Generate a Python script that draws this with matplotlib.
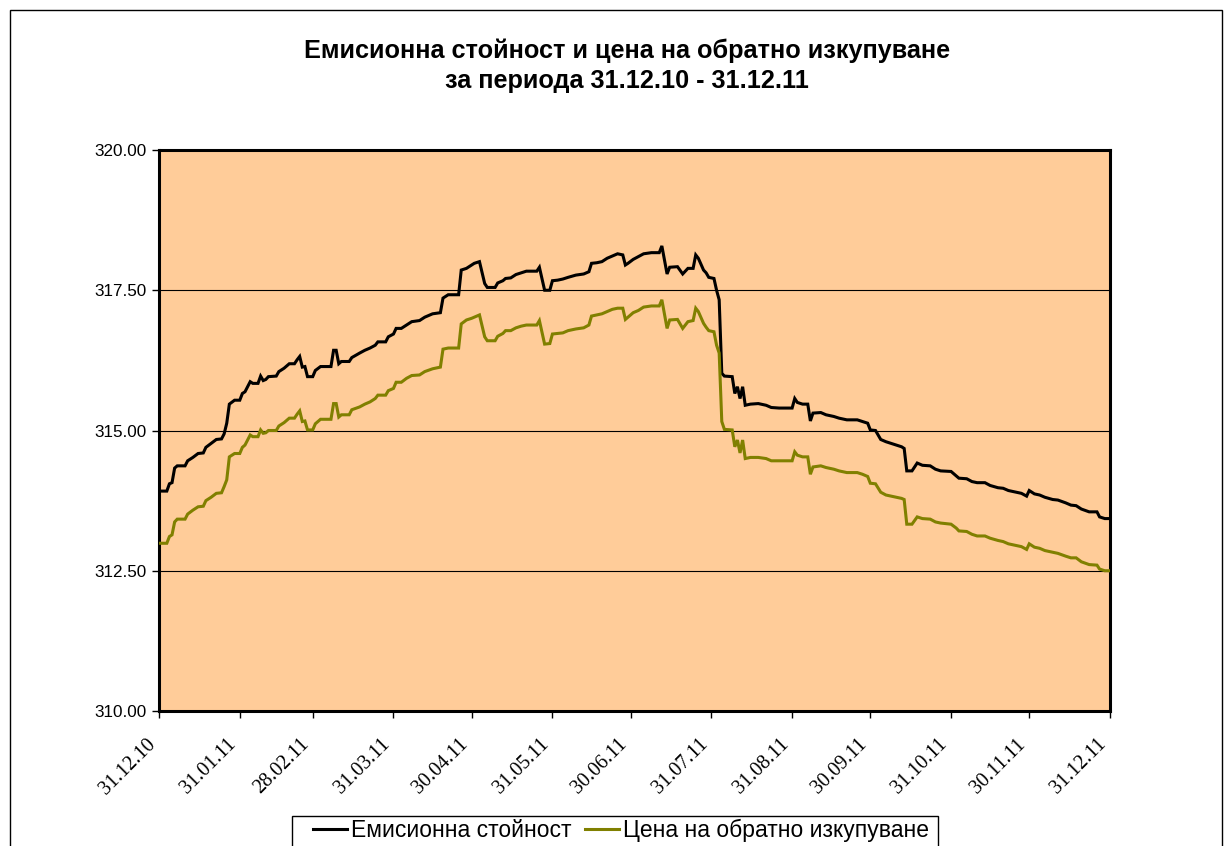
import datetime as dt
import matplotlib
matplotlib.use("Agg")
import matplotlib.pyplot as plt
from matplotlib.patches import Rectangle
from matplotlib.ticker import FixedLocator, FuncFormatter, NullFormatter
import matplotlib.transforms as mtransforms

# ---------------- data ----------------
start_date = dt.date(2010, 12, 31)

day_offsets = [
    0, 3, 4, 5, 6, 7, 10, 11, 13, 15,
    17, 18, 20, 22, 24, 25, 26, 27, 29, 31,
    32, 33, 35, 36, 38, 39, 40, 41, 42, 45,
    46, 48, 50, 52, 53, 54, 55, 56, 57, 59,
    60, 62, 66, 67, 68, 69, 70, 73, 74, 77,
    79, 81, 83, 84, 87, 88, 90, 91, 93, 95,
    97, 100, 102, 105, 108, 109, 111, 115, 116, 118,
    120, 121, 123, 125, 126, 129, 130, 132, 133, 135,
    137, 139, 141, 145, 146, 148, 150, 151, 153, 155,
    157, 160, 163, 165, 166, 168, 170, 172, 174, 176,
    178, 179, 180, 182, 184, 186, 189, 192, 193, 195,
    196, 199, 201, 203, 205, 206, 207, 209, 210, 211,
    213, 214, 215, 216, 217, 220, 221, 222, 223, 224,
    225, 227, 230, 233, 235, 238, 243, 244, 245, 247,
    249, 250, 251, 254, 256, 259, 261, 264, 268, 270,
    272, 273, 275, 277, 279, 281, 283, 285, 286, 287,
    289, 291, 293, 296, 298, 300, 304, 306, 307, 310,
    312, 314, 317, 319, 322, 324, 326, 329, 331, 333,
    334, 336, 338, 340, 343, 345, 348, 350, 352, 354,
    357, 360, 361, 363, 365,
]

issue_value = [
    313.92, 313.92, 314.05, 314.07, 314.33, 314.37, 314.37, 314.46, 314.52, 314.59,
    314.60, 314.70, 314.77, 314.84, 314.85, 314.94, 315.13, 315.47, 315.54, 315.54,
    315.66, 315.69, 315.87, 315.84, 315.84, 315.97, 315.89, 315.91, 315.96, 315.97,
    316.05, 316.11, 316.19, 316.19, 316.26, 316.32, 316.13, 316.14, 315.96, 315.96,
    316.07, 316.14, 316.14, 316.43, 316.43, 316.19, 316.23, 316.23, 316.30, 316.38,
    316.43, 316.47, 316.52, 316.58, 316.58, 316.67, 316.72, 316.82, 316.82, 316.88,
    316.94, 316.96, 317.02, 317.08, 317.10, 317.36, 317.42, 317.42, 317.86, 317.89,
    317.95, 317.98, 318.01, 317.62, 317.55, 317.55, 317.63, 317.67, 317.71, 317.72,
    317.78, 317.81, 317.84, 317.84, 317.91, 317.50, 317.50, 317.67, 317.68, 317.70,
    317.73, 317.77, 317.79, 317.83, 317.98, 317.99, 318.01, 318.07, 318.11, 318.15,
    318.13, 317.95, 317.98, 318.05, 318.10, 318.15, 318.17, 318.17, 318.29, 317.79,
    317.91, 317.92, 317.79, 317.89, 317.89, 318.13, 318.07, 317.86, 317.81, 317.73,
    317.71, 317.50, 317.33, 316.02, 315.97, 315.96, 315.66, 315.78, 315.57, 315.78,
    315.45, 315.47, 315.48, 315.45, 315.41, 315.40, 315.40, 315.57, 315.50, 315.47,
    315.47, 315.17, 315.31, 315.32, 315.28, 315.25, 315.22, 315.19, 315.19, 315.16,
    315.13, 315.01, 315.00, 314.84, 314.80, 314.77, 314.74, 314.71, 314.68, 314.28,
    314.28, 314.42, 314.38, 314.37, 314.31, 314.28, 314.27, 314.19, 314.15, 314.14,
    314.09, 314.07, 314.07, 314.02, 313.98, 313.97, 313.93, 313.90, 313.88, 313.83,
    313.93, 313.87, 313.85, 313.81, 313.77, 313.76, 313.71, 313.67, 313.66, 313.60,
    313.55, 313.55, 313.46, 313.43, 313.43,
]

redemption_price = [
    312.99, 312.99, 313.11, 313.14, 313.37, 313.42, 313.42, 313.51, 313.58, 313.64,
    313.65, 313.75, 313.81, 313.88, 313.89, 314.00, 314.12, 314.53, 314.59, 314.59,
    314.70, 314.74, 314.92, 314.89, 314.89, 315.01, 314.95, 314.96, 315.00, 315.00,
    315.08, 315.14, 315.22, 315.22, 315.29, 315.35, 315.16, 315.17, 315.01, 315.01,
    315.12, 315.20, 315.20, 315.48, 315.48, 315.24, 315.28, 315.28, 315.37, 315.42,
    315.47, 315.51, 315.57, 315.63, 315.63, 315.71, 315.75, 315.86, 315.86, 315.93,
    315.98, 315.99, 316.05, 316.10, 316.13, 316.45, 316.47, 316.47, 316.90, 316.97,
    317.00, 317.02, 317.06, 316.67, 316.60, 316.60, 316.68, 316.73, 316.78, 316.78,
    316.83, 316.86, 316.88, 316.88, 316.96, 316.54, 316.55, 316.72, 316.73, 316.74,
    316.78, 316.81, 316.83, 316.88, 317.04, 317.06, 317.08, 317.12, 317.16, 317.18,
    317.18, 316.98, 317.02, 317.10, 317.14, 317.20, 317.22, 317.22, 317.33, 316.82,
    316.97, 316.98, 316.82, 316.94, 316.96, 317.18, 317.12, 316.91, 316.84, 316.78,
    316.76, 316.52, 316.38, 315.16, 315.02, 315.01, 314.71, 314.83, 314.60, 314.83,
    314.50, 314.52, 314.52, 314.50, 314.46, 314.46, 314.46, 314.62, 314.56, 314.53,
    314.53, 314.22, 314.35, 314.37, 314.34, 314.31, 314.28, 314.25, 314.25, 314.22,
    314.18, 314.06, 314.05, 313.90, 313.85, 313.83, 313.81, 313.79, 313.77, 313.33,
    313.33, 313.46, 313.43, 313.42, 313.37, 313.35, 313.33, 313.26, 313.21, 313.20,
    313.15, 313.12, 313.12, 313.08, 313.04, 313.02, 312.98, 312.95, 312.93, 312.88,
    312.98, 312.92, 312.90, 312.86, 312.83, 312.81, 312.76, 312.73, 312.73, 312.66,
    312.61, 312.60, 312.53, 312.50, 312.50,
]

tick_labels = ["31.12.10", "31.01.11", "28.02.11", "31.03.11", "30.04.11", "31.05.11",
               "30.06.11", "31.07.11", "31.08.11", "30.09.11", "31.10.11", "30.11.11",
               "31.12.11"]

series_names = ["Емисионна стойност", "Цена на обратно изкупуване"]
title_text = "Емисионна стойност и цена на обратно изкупуване\nза периода 31.12.10 - 31.12.11"

y_ticks = [310.0, 312.5, 315.0, 317.5, 320.0]

# ---------------- figure ----------------
W, H = 1232, 846
fig = plt.figure(figsize=(W / 100, H / 100), dpi=100)
fig.patch.set_facecolor("white")

ax = fig.add_axes([159 / W, 1 - 711 / H, (1110 - 159) / W, (711 - 150) / H])
ax.set_facecolor("#FFCC99")

ax.plot(day_offsets, issue_value, color="black", lw=2.2, solid_joinstyle="miter",
        label=series_names[0], zorder=3)
ax.plot(day_offsets, redemption_price, color="#808000", lw=2.2, solid_joinstyle="miter",
        label=series_names[1], zorder=3)

ax.set_xlim(0, 365)
ax.set_ylim(310, 320)

# x ticks from label dates
def label_to_offset(s):
    d, m, y = s.split(".")
    return (dt.date(2000 + int(y), int(m), int(d)) - start_date).days

tick_pos = [label_to_offset(s) for s in tick_labels]
ax.xaxis.set_major_locator(FixedLocator(tick_pos))
ax.xaxis.set_major_formatter(NullFormatter())

base = mtransforms.blended_transform_factory(ax.transData, ax.transAxes)
offset = mtransforms.ScaledTranslation(-13 / 100, -24 / 100, fig.dpi_scale_trans)
for pos, lab in zip(tick_pos, tick_labels):
    ax.text(pos, 0, lab, transform=base + offset, rotation=45, ha="right", va="top",
            rotation_mode="anchor", fontsize=14.5, family="Liberation Serif",
            clip_on=False)

ax.yaxis.set_major_locator(FixedLocator(y_ticks))
ax.yaxis.set_major_formatter(FuncFormatter(lambda v, p: f"{v:.2f}"))
for lab in ax.get_yticklabels():
    lab.set_fontsize(12.3)
    lab.set_family("Liberation Sans")

ax.tick_params(axis="both", direction="out", length=5, width=1, color="black", pad=3)
ax.tick_params(axis="y", pad=4)

for y in y_ticks[1:-1]:
    ax.axhline(y, color="black", lw=0.8, zorder=1)

for sp in ax.spines.values():
    sp.set_linewidth(2.2)
    sp.set_color("black")

fig.text(627 / W, 1 - 66 / H, title_text, ha="center", va="center", fontsize=18.2,
         fontweight="bold", family="Liberation Sans", linespacing=1.33)

# legend (frame drawn separately)
leg = fig.legend(loc="upper left", bbox_to_anchor=(313 / W, 1 - 819 / H),
                 ncol=2, frameon=False,
                 prop={"family": "Liberation Sans", "size": 16.5},
                 handlelength=1.5, handletextpad=0.15, columnspacing=0.6,
                 borderpad=0, borderaxespad=0)
fig.add_artist(Rectangle((292 / W, -0.05), (938 - 292) / W, 1 - 816 / H + 0.05,
                         transform=fig.transFigure, fill=False, edgecolor="black",
                         lw=1.0, zorder=10))

# outer chart border
fig.add_artist(Rectangle((10 / W, -0.05), (1222 - 10) / W, 1 - 10 / H + 0.05,
                         transform=fig.transFigure, fill=False, edgecolor="black",
                         lw=1.0, zorder=10))

fig.savefig("out.png", dpi=100, facecolor="white")
